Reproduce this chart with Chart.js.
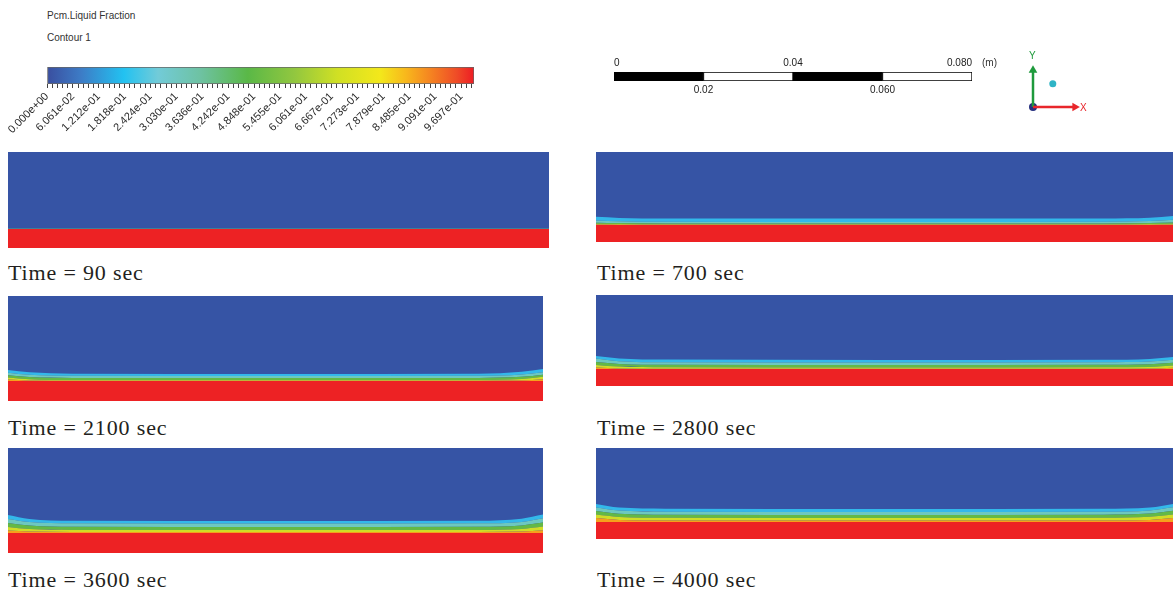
<!DOCTYPE html>
<html>
<head>
<meta charset="utf-8">
<script src="https://cdn.jsdelivr.net/npm/chart.js@4.4.1/dist/chart.umd.min.js"></script>
<style>
body { margin: 0; background: #fff; width: 1173px; height: 590px; position: relative; overflow: hidden; font-family: 'Liberation Sans', Arial, sans-serif; }
canvas { position: absolute; }
.t { position: absolute; white-space: nowrap; line-height: 1; }
.cap { font-family: 'Liberation Serif', 'Times New Roman', serif; font-size: 22px; letter-spacing: 0.85px; color: #231f20; }
.s { font-size: 10px; color: #333; }
</style>
</head>
<body>
<div class="t s" style="left:47px;top:11px">Pcm.Liquid Fraction</div>
<div class="t s" style="left:47px;top:33px">Contour 1</div>
<canvas id="colorbar" width="490" height="100" style="left:0;top:60px"></canvas>

<canvas id="scalebar" width="410" height="45" style="left:600px;top:55px"></canvas>
<div class="t s" style="left:982px;top:58px">(m)</div>

<canvas id="triad" width="80" height="70" style="left:1020px;top:50px"></canvas>
<div class="t" style="left:1029px;top:51px;font-size:10px;color:#1e9a3c">Y</div>
<div class="t" style="left:1080px;top:103px;font-size:10px;color:#e8262b">X</div>

<canvas id="p90" width="541" height="96" style="left:8px;top:152px"></canvas>
<canvas id="p700" width="577" height="90" style="left:596px;top:152px"></canvas>
<canvas id="p2100" width="535" height="105" style="left:8px;top:296px"></canvas>
<canvas id="p2800" width="577" height="91" style="left:596px;top:295px"></canvas>
<canvas id="p3600" width="535" height="105" style="left:8px;top:448px"></canvas>
<canvas id="p4000" width="577" height="91" style="left:596px;top:448px"></canvas>

<div class="t cap" style="left:8px;top:262px">Time = 90 sec</div>
<div class="t cap" style="left:597px;top:262px">Time = 700 sec</div>
<div class="t cap" style="left:8px;top:417px">Time = 2100 sec</div>
<div class="t cap" style="left:597px;top:417px">Time = 2800 sec</div>
<div class="t cap" style="left:8px;top:569px">Time = 3600 sec</div>
<div class="t cap" style="left:597px;top:569px">Time = 4000 sec</div>

<script>
// legend (colour bar) tick labels
const cbLabels = ['0.000e+00', '6.061e-02', '1.212e-01', '1.818e-01', '2.424e-01', '3.030e-01',
    '3.636e-01', '4.242e-01', '4.848e-01', '5.455e-01', '6.061e-01', '6.667e-01', '7.273e-01',
    '7.879e-01', '8.485e-01', '9.091e-01', '9.697e-01'];
const cbMinorPerMajor = 5;

// scale bar (m)
const sbSegments = [0.02, 0.02, 0.02, 0.02];
const sbTopTicks = [0, 0.04, 0.08];
const sbTopLabels = ['0', '0.04', '0.080'];
const sbBottomTicks = [0.02, 0.06];
const sbBottomLabels = ['0.02', '0.060'];

// axis triad
const triadX = [0, 1];
const triadY = [0, 1];
const triadBall = [0.44, 0.58];

// contour panels: heights in % of panel height, sampled along the normalised length
const xPos = [0, 0.04, 0.12, 0.5, 0.88, 0.96, 1];
const levels = [0.85, 0.6, 0.4, 0.2, 0.05];

const heater90 = 19.8;
const lf90 = [
    [19.8, 19.8, 19.8, 19.8, 19.8, 19.8, 19.8],
    [19.9, 19.9, 19.9, 19.9, 19.9, 19.9, 19.9],
    [20.0, 20.0, 20.0, 20.0, 20.0, 20.0, 20.0],
    [20.1, 20.1, 20.1, 20.1, 20.1, 20.1, 20.1],
    [20.3, 20.3, 20.3, 20.3, 20.3, 20.3, 20.3]
];
const heater700 = 18.9;
const lf700 = [
    [19.4, 19.2, 19.1, 19.1, 19.1, 19.2, 19.4],
    [20.2, 19.9, 19.7, 19.7, 19.7, 19.9, 20.3],
    [21.5, 21.0, 20.6, 20.6, 20.6, 21.0, 21.7],
    [24.0, 23.0, 22.4, 22.2, 22.4, 23.2, 24.6],
    [28.0, 26.8, 26.2, 26.0, 26.2, 27.0, 29.0]
];
const heater2100 = 19.0;
const lf2100 = [
    [20.5, 19.6, 19.3, 19.3, 19.3, 19.7, 20.8],
    [22.5, 20.8, 20.1, 20.0, 20.1, 21.0, 23.0],
    [24.5, 22.8, 22.0, 21.9, 22.0, 23.0, 25.0],
    [27.0, 25.0, 24.0, 23.8, 24.0, 25.3, 27.5],
    [29.5, 27.5, 26.0, 25.7, 26.0, 27.8, 30.5]
];
const heater2800 = 18.7;
const lf2800 = [
    [20.3, 19.3, 19.0, 19.0, 19.0, 19.2, 20.0],
    [23.1, 21.3, 20.5, 20.3, 20.5, 21.0, 22.5],
    [26.4, 24.2, 23.3, 23.1, 23.3, 24.0, 25.5],
    [30.2, 27.3, 26.1, 25.8, 26.0, 26.8, 28.8],
    [33.0, 30.3, 29.0, 28.6, 28.8, 29.8, 32.0]
];
const heater3600 = 19.0;
const lf3600 = [
    [21.4, 20.4, 20.0, 20.0, 20.0, 20.4, 21.6],
    [24.8, 22.8, 22.0, 21.9, 22.0, 22.9, 25.2],
    [28.6, 26.2, 25.0, 24.8, 25.0, 26.3, 29.0],
    [32.4, 29.5, 28.3, 28.1, 28.3, 29.6, 33.0],
    [36.2, 32.5, 30.8, 30.5, 30.8, 32.7, 36.6]
];
const heater4000 = 18.7;
const lf4000 = [
    [23.1, 21.0, 20.4, 20.3, 20.4, 21.0, 23.0],
    [26.9, 24.3, 23.3, 23.1, 23.3, 24.4, 27.0],
    [30.8, 27.8, 26.7, 26.4, 26.7, 27.9, 31.0],
    [34.6, 31.2, 30.0, 29.7, 30.0, 31.3, 34.8],
    [38.5, 34.5, 33.3, 33.0, 33.3, 34.6, 38.5]
];

// colours
const SOLID = '#3654a5';
const LIQUID = '#ed2224';
const bandColors = ['#f6a01c', '#cfdd27', '#63b946', '#6dc8c0', '#33b8ea'];
const cmapStops = [0, 0.08, 0.18, 0.26, 0.36, 0.47, 0.58, 0.68, 0.78, 0.84, 0.9, 0.96, 1];
const cmapColors = ['#3a4e9f', '#3d7cc6', '#22c2f1', '#72cbd8', '#6ec2a2', '#5ab847', '#92c73f',
    '#d0e024', '#f3e81b', '#f8b81c', '#f58221', '#ef4b27', '#ed1c24'];

Chart.defaults.animation = false;
Chart.defaults.responsive = false;
Chart.defaults.devicePixelRatio = 1;
Chart.defaults.font.family = "'Liberation Sans', Arial, sans-serif";
Chart.defaults.plugins.legend.display = false;
Chart.defaults.plugins.tooltip.enabled = false;

// ---- colour bar ----
new Chart(document.getElementById('colorbar'), {
    type: 'bar',
    data: {
        labels: ['Pcm.Liquid Fraction'],
        datasets: [{
            data: [[0, 1]],
            borderColor: '#666',
            borderWidth: 1,
            borderSkipped: false,
            barPercentage: 1,
            categoryPercentage: 1,
            backgroundColor: ctx => {
                const area = ctx.chart.chartArea;
                if (!area) return cmapColors[0];
                const g = ctx.chart.ctx.createLinearGradient(area.left, 0, area.right, 0);
                cmapStops.forEach((s, i) => g.addColorStop(s, cmapColors[i]));
                return g;
            }
        }]
    },
    options: {
        indexAxis: 'y',
        layout: { padding: { left: 47, right: 16, top: 7, bottom: 0 } },
        scales: {
            y: { display: false },
            x: {
                min: 0, max: 1,
                afterBuildTicks: axis => {
                    const step = Number(cbLabels[1]) / cbMinorPerMajor;
                    const ticks = [];
                    for (let i = 0; i * step <= 1; i++) ticks.push({ value: i * step });
                    axis.ticks = ticks;
                },
                afterFit: s => { s.height = 76; },
                grid: { drawOnChartArea: false, drawTicks: true, tickLength: 4, tickColor: '#444', tickWidth: 1 },
                border: { display: false },
                ticks: {
                    autoSkip: false, minRotation: 45, maxRotation: 45, padding: 2,
                    color: '#2a2a2a', font: { size: 11 },
                    callback: (v, i) => (i % cbMinorPerMajor === 0 ? (cbLabels[i / cbMinorPerMajor] || '') : '')
                }
            }
        }
    }
});

// ---- scale bar ----
new Chart(document.getElementById('scalebar'), {
    type: 'bar',
    data: {
        labels: ['m'],
        datasets: sbSegments.map((w, i) => ({
            data: [w],
            backgroundColor: i % 2 === 0 ? '#000' : '#fff',
            borderColor: '#000',
            borderWidth: 1,
            borderSkipped: false,
            barPercentage: 1,
            categoryPercentage: 1
        }))
    },
    options: {
        indexAxis: 'y',
        layout: { padding: { left: 14, right: 38, top: 0, bottom: 0 } },
        scales: {
            y: { display: false, stacked: true },
            x: {
                stacked: true, min: 0, max: 0.08, position: 'bottom',
                afterBuildTicks: a => { a.ticks = sbBottomTicks.map(v => ({ value: v })); },
                afterFit: s => { s.height = 19; },
                grid: { display: false, drawTicks: false },
                border: { display: false },
                ticks: { padding: 3, color: '#222', font: { size: 10 },
                    callback: (v, i) => sbBottomLabels[i] }
            },
            x2: {
                type: 'linear', min: 0, max: 0.08, position: 'top',
                afterBuildTicks: a => { a.ticks = sbTopTicks.map(v => ({ value: v })); },
                afterFit: s => { s.height = 17; },
                grid: { display: false, drawTicks: false },
                border: { display: false },
                ticks: { padding: 3, align: 'inner', color: '#222', font: { size: 10 },
                    callback: (v, i) => sbTopLabels[i] }
            }
        }
    }
});

// ---- axis triad ----
new Chart(document.getElementById('triad'), {
    type: 'scatter',
    data: {
        datasets: [
            { data: triadX.map(x => ({ x: x * 0.93, y: 0 })), showLine: true, borderColor: '#e8262b', borderWidth: 2.5,
              pointRadius: [0, 5], pointStyle: 'triangle', rotation: 90, pointBackgroundColor: '#e8262b', pointBorderWidth: 0 },
            { data: triadY.map(y => ({ x: 0, y: y * 0.92 })), showLine: true, borderColor: '#1e9a3c', borderWidth: 2.5,
              pointRadius: [0, 5], pointStyle: 'triangle', rotation: 0, pointBackgroundColor: '#1e9a3c', pointBorderWidth: 0 },
            { data: [{ x: 0, y: 0 }], pointRadius: 4, pointBackgroundColor: '#26307f', pointBorderWidth: 0 },
            { data: [{ x: triadBall[0], y: triadBall[1] }], pointRadius: 3.5, pointBackgroundColor: '#2fb4c6', pointBorderWidth: 0 }
        ]
    },
    options: {
        clip: false,
        layout: { padding: { left: 13, right: 22, top: 17, bottom: 13 } },
        scales: {
            x: { display: false, min: 0, max: 1 },
            y: { display: false, min: 0, max: 1 }
        }
    }
});

// ---- contour panels ----
const solidBackground = {
    id: 'solidBackground',
    beforeDraw(chart) {
        const { ctx, chartArea: a } = chart;
        ctx.save();
        ctx.fillStyle = SOLID;
        ctx.fillRect(a.left, a.top, a.right - a.left, a.bottom - a.top);
        ctx.restore();
    }
};

function renderPanel(id, heater, contours) {
    const common = { borderWidth: 0, pointRadius: 0, cubicInterpolationMode: 'monotone' };
    const datasets = [{
        ...common,
        label: 'heated wall',
        data: xPos.map(x => ({ x, y: heater })),
        fill: 'start',
        backgroundColor: LIQUID
    }];
    contours.forEach((c, i) => {
        datasets.push({
            ...common,
            label: 'lf = ' + levels[i],
            data: xPos.map((x, j) => ({ x, y: c[j] })),
            fill: '-1',
            backgroundColor: bandColors[i]
        });
    });
    new Chart(document.getElementById(id), {
        type: 'line',
        data: { datasets },
        options: {
            layout: { padding: 0 },
            scales: {
                x: { type: 'linear', display: false, min: 0, max: 1 },
                y: { display: false, min: 0, max: 100 }
            }
        },
        plugins: [solidBackground]
    });
}

renderPanel('p90', heater90, lf90);
renderPanel('p700', heater700, lf700);
renderPanel('p2100', heater2100, lf2100);
renderPanel('p2800', heater2800, lf2800);
renderPanel('p3600', heater3600, lf3600);
renderPanel('p4000', heater4000, lf4000);
</script>
</body>
</html>
